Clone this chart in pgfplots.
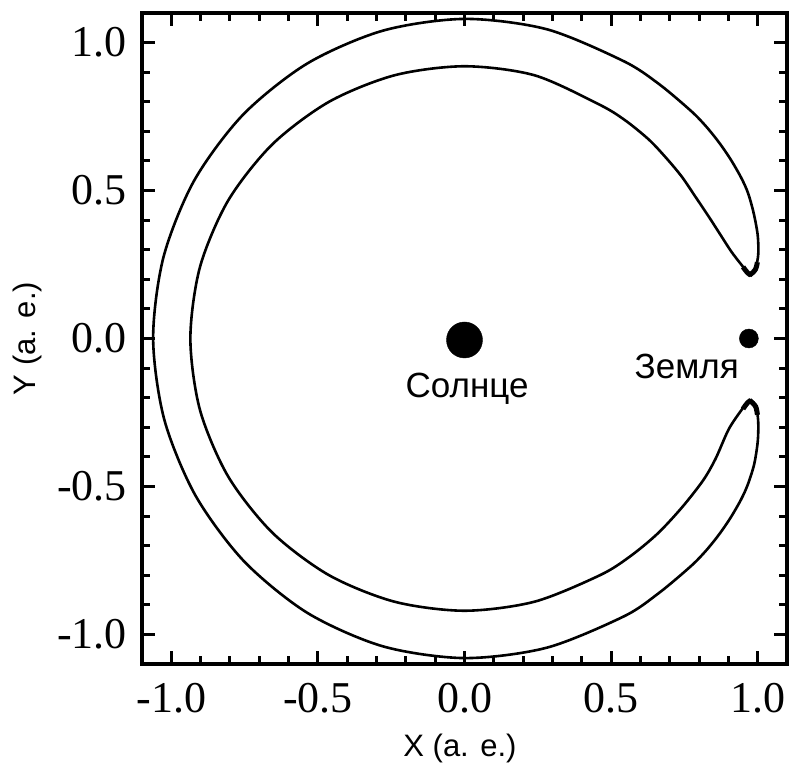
\documentclass[border=0pt]{standalone}
\usepackage{pgfplots}
\pgfplotsset{compat=1.18}
\usepackage{fontspec}
\setmainfont{Liberation Serif}
\newfontfamily\arialfont{Liberation Sans}
\usetikzlibrary{calc}

\begin{document}
\begin{tikzpicture}
\begin{axis}[
  name=ax,
  scale only axis,
  width=645pt, height=651pt,
  xmin=-1.1, xmax=1.1,
  ymin=-1.1, ymax=1.1,
  xtick={-1,-0.5,0,0.5,1},
  ytick={-1,-0.5,0,0.5,1},
  xticklabels={-1.0,-0.5,0.0,0.5,1.0},
  yticklabels={-1.0,-0.5,0.0,0.5,1.0},
  minor x tick num=4,
  minor y tick num=4,
  major tick length=13pt,
  minor tick length=8pt,
  tick style={black, line width=3pt},
  axis line style={line width=3.5pt},
  tick label style={font=\fontsize{44}{48}\selectfont, inner sep=0pt},
  x tick label style={yshift=-19pt},
  y tick label style={xshift=-15pt},
  xlabel={X (a. e.)},
  ylabel={Y (a. e.)},
  label style={font=\arialfont\fontsize{31}{34}\selectfont, inner sep=0pt},
  x label style={at={(axis description cs:0.493,-0.1075)}, anchor=north},
  y label style={at={(axis description cs:-0.155,0.5)}, anchor=south},
]

% outer arc, upper tip -> lower tip
\addplot[black, line width=2.6pt, smooth] coordinates {
  (0.975,0.210) (0.993,0.240) (1.002,0.285) (1.000,0.350) (0.986,0.425)
  (0.9667,0.4926) (0.9431,0.5445) (0.9072,0.6061) (0.8664,0.6648) (0.8210,0.7200)
  (0.7707,0.7707) (0.6611,0.8616) (0.5415,0.9379) (0.2801,1.0452)
  (0.000,1.080) (-0.2787,1.0402) (-0.5365,0.9292) (-0.7558,0.7558) (-0.9226,0.5327)
  (-1.0267,0.2751) (-1.062,0.000) (-1.0239,-0.2743) (-0.918,-0.530) (-0.7524,-0.7524)
  (-0.5355,-0.9275) (-0.2787,-1.0402) (0.000,-1.080) (0.280,-1.0451) (0.5425,-0.9396)
  (0.6611,-0.8616) (0.7707,-0.7707) (0.8210,-0.7200) (0.8664,-0.6648) (0.9072,-0.6061)
  (0.9431,-0.5445) (0.9667,-0.4926) (0.988,-0.425) (1.000,-0.350) (1.002,-0.285)
  (0.995,-0.235) (0.975,-0.205)
};

% inner arc, lower tip -> upper tip
\addplot[black, line width=2.6pt, smooth] coordinates {
  (0.975,-0.205) (0.946,-0.240) (0.901,-0.307) (0.857,-0.405) (0.8145,-0.4786)
  (0.7426,-0.5698) (0.659,-0.659) (0.5650,-0.7362) (0.4619,-0.8000)
  (0.2384,-0.8896) (0.000,-0.920) (-0.2384,-0.8896)
  (-0.4619,-0.8000) (-0.6558,-0.6558) (-0.8065,-0.4656) (-0.9022,-0.2417) (-0.935,0.000)
  (-0.9022,0.2417) (-0.8065,0.4656) (-0.6558,0.6558) (-0.4619,0.8000) (-0.2384,0.8896)
  (0.000,0.920) (0.2384,0.8896) (0.459,0.791) (0.547,0.738) (0.629,0.672)
  (0.688,0.610) (0.741,0.547) (0.787,0.480) (0.833,0.412) (0.872,0.352)
  (0.912,0.291) (0.955,0.236) (0.975,0.210)
};

% thick blobs at the tips
\addplot[black, line width=5pt, smooth] coordinates {
  (0.950,0.242) (0.972,0.217) (0.992,0.233) (0.999,0.258)
};
\addplot[black, line width=5pt, smooth] coordinates {
  (0.950,-0.238) (0.972,-0.212) (0.993,-0.230) (0.999,-0.258)
};

% Sun and Earth
\addplot[only marks, mark=*, mark size=18pt, black] coordinates {(0,-0.005)};
\addplot[only marks, mark=*, mark size=9.5pt, black] coordinates {(0.970,0.000)};

\node[font=\arialfont\fontsize{35}{38}\selectfont, anchor=base, inner sep=0pt]
  at (axis cs:0.009,-0.200) {Солнце};
\node[font=\arialfont\fontsize{35}{38}\selectfont, anchor=base, inner sep=0pt]
  at (axis cs:0.758,-0.136) {Земля};
\end{axis}
\path ($(ax.south west)+(-142pt,-97pt)$) rectangle ($(ax.north east)+(5pt,13pt)$);
\end{tikzpicture}
\end{document}
